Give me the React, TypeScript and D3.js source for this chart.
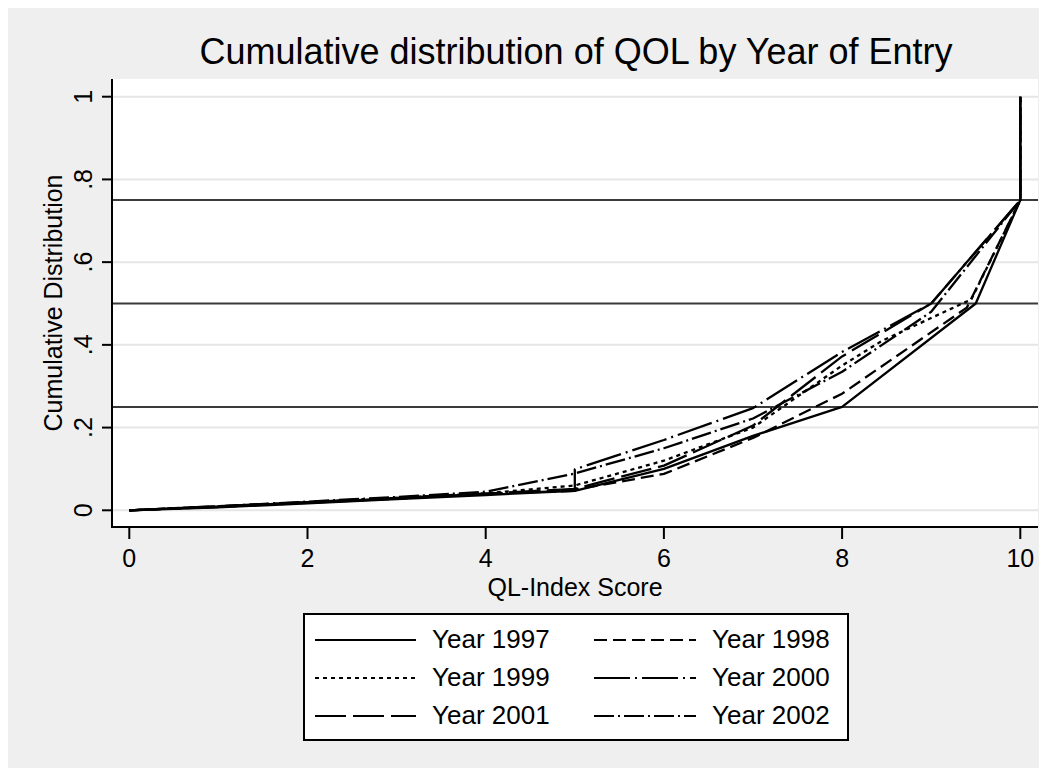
import React from "react";
import * as d3 from "d3";

// QL-Index cumulative distribution, one series per year of entry
const years = ["1997", "1998", "1999", "2000", "2001", "2002"];
const scores1997 = [0, 1, 2, 3, 4, 5, 6, 7, 8, 9.5, 10, 10];
const cum1997 = [0, 0.007, 0.017, 0.027, 0.037, 0.047, 0.1, 0.18, 0.25, 0.5, 0.75, 1];
const scores1998 = [0, 1, 2, 3, 4, 5, 6, 7, 8, 9.4, 10, 10];
const cum1998 = [0, 0.008, 0.018, 0.028, 0.039, 0.05, 0.088, 0.175, 0.282, 0.49, 0.75, 1];
const scores1999 = [0, 1, 2, 3, 4, 5, 6, 7, 8, 8.45, 9.45, 10, 10];
const cum1999 = [0, 0.009, 0.019, 0.03, 0.041, 0.06, 0.12, 0.2, 0.35, 0.41, 0.51, 0.75, 1];
const scores2000 = [0, 1, 2, 3, 4, 5, 5, 6, 7, 8, 9, 10, 10];
const cum2000 = [0, 0.01, 0.02, 0.03, 0.04, 0.047, 0.099, 0.17, 0.247, 0.383, 0.5, 0.75, 1];
const scores2001 = [0, 1, 2, 3, 4, 5, 6, 7, 8, 9, 10, 10];
const cum2001 = [0, 0.009, 0.019, 0.029, 0.04, 0.052, 0.108, 0.205, 0.372, 0.5, 0.75, 1];
const scores2002 = [0, 1, 2, 3, 4, 5, 6, 7, 8, 9, 10, 10];
const cum2002 = [0, 0.01, 0.021, 0.032, 0.045, 0.089, 0.15, 0.222, 0.335, 0.48, 0.75, 1];

const xTicks = [0, 2, 4, 6, 8, 10];
const yTicks = [0, 0.2, 0.4, 0.6, 0.8, 1];
const yTickLabels = ["0", ".2", ".4", ".6", ".8", "1"];
const quartiles = [0.25, 0.5, 0.75];

const seriesScores = [scores1997, scores1998, scores1999, scores2000, scores2001, scores2002];
const seriesCum = [cum1997, cum1998, cum1999, cum2000, cum2001, cum2002];
const dashes = ["none", "13,6", "4,4", "36,5,2,5", "31,7", "20,4,2,4"];

const FONT = "'Liberation Sans', Arial, Helvetica, sans-serif";

export default function App() {
  const plotLeft = 112;
  const plotRight = 1038;
  const plotTop = 79;
  const plotBottom = 527;

  const x = d3.scaleLinear().domain([0, 10]).range([129.3, 1020.3]);
  const y = d3.scaleLinear().domain([0, 1]).range([510.3, 96.7]);

  const line = d3
    .line<[number, number]>()
    .x((d) => x(d[0]))
    .y((d) => y(d[1]));

  const series = years.map((yr, i) => ({
    year: yr,
    dash: dashes[i],
    points: seriesScores[i].map((s, j) => [s, seriesCum[i][j]] as [number, number]),
  }));

  // legend layout: two columns, three rows
  const legendRowsY = [640, 678, 716];
  const legendCols = [
    { lineX0: 315, lineX1: 416, textX: 432 },
    { lineX0: 594, lineX1: 696, textX: 712 },
  ];

  return (
    <svg width={1039} height={760} style={{ display: "block" }} fontFamily={FONT}>
      <g transform="translate(-8,-8)">
        <rect x={8} y={8} width={1039} height={760} fill="#efefef" />
        <text x={576} y={64} textAnchor="middle" fontSize={36} fill="#000">
          Cumulative distribution of QOL by Year of Entry
        </text>

        <rect x={plotLeft} y={plotTop} width={plotRight - plotLeft} height={plotBottom - plotTop} fill="#fff" />

        {yTicks.map((t) => (
          <line key={"g" + t} x1={plotLeft} x2={plotRight} y1={y(t)} y2={y(t)} stroke="#e6e6e6" strokeWidth={2} />
        ))}
        {quartiles.map((q) => (
          <line key={"q" + q} x1={plotLeft} x2={plotRight} y1={y(q)} y2={y(q)} stroke="#3a3a3a" strokeWidth={2} />
        ))}

        {series.map((s) => (
          <path
            key={s.year}
            d={line(s.points) || ""}
            fill="none"
            stroke="#000"
            strokeWidth={2.3}
            strokeDasharray={s.dash}
            strokeLinejoin="round"
          />
        ))}

        {/* axes */}
        <line x1={plotLeft} x2={plotLeft} y1={plotTop} y2={plotBottom + 1} stroke="#000" strokeWidth={2} />
        <line x1={plotLeft} x2={plotRight} y1={plotBottom} y2={plotBottom} stroke="#000" strokeWidth={2} />
        {yTicks.map((t, i) => (
          <g key={"yt" + t}>
            <line x1={plotLeft - 10} x2={plotLeft} y1={y(t)} y2={y(t)} stroke="#000" strokeWidth={2} />
            <text
              transform={`translate(92,${y(t)}) rotate(-90)`}
              textAnchor="middle"
              fontSize={25}
              fill="#000"
            >
              {yTickLabels[i]}
            </text>
          </g>
        ))}
        {xTicks.map((t) => (
          <g key={"xt" + t}>
            <line x1={x(t)} x2={x(t)} y1={plotBottom} y2={plotBottom + 12} stroke="#000" strokeWidth={2} />
            <text x={x(t)} y={567} textAnchor="middle" fontSize={25} fill="#000">
              {t}
            </text>
          </g>
        ))}
        <text x={(plotLeft + plotRight) / 2} y={596} textAnchor="middle" fontSize={25} fill="#000">
          QL-Index Score
        </text>
        <text
          transform={`translate(62,${(plotTop + plotBottom) / 2}) rotate(-90)`}
          textAnchor="middle"
          fontSize={25}
          fill="#000"
        >
          Cumulative Distribution
        </text>

        {/* legend */}
        <rect x={304} y={614} width={544} height={126} fill="#fff" stroke="#000" strokeWidth={2} />
        {series.map((s, i) => {
          const col = legendCols[i % 2];
          const ry = legendRowsY[Math.floor(i / 2)];
          return (
            <g key={"l" + s.year}>
              <line x1={col.lineX0} x2={col.lineX1} y1={ry} y2={ry} stroke="#000" strokeWidth={2} strokeDasharray={s.dash} />
              <text x={col.textX} y={ry + 8} fontSize={26} fill="#000">
                {"Year " + s.year}
              </text>
            </g>
          );
        })}
      </g>
    </svg>
  );
}
